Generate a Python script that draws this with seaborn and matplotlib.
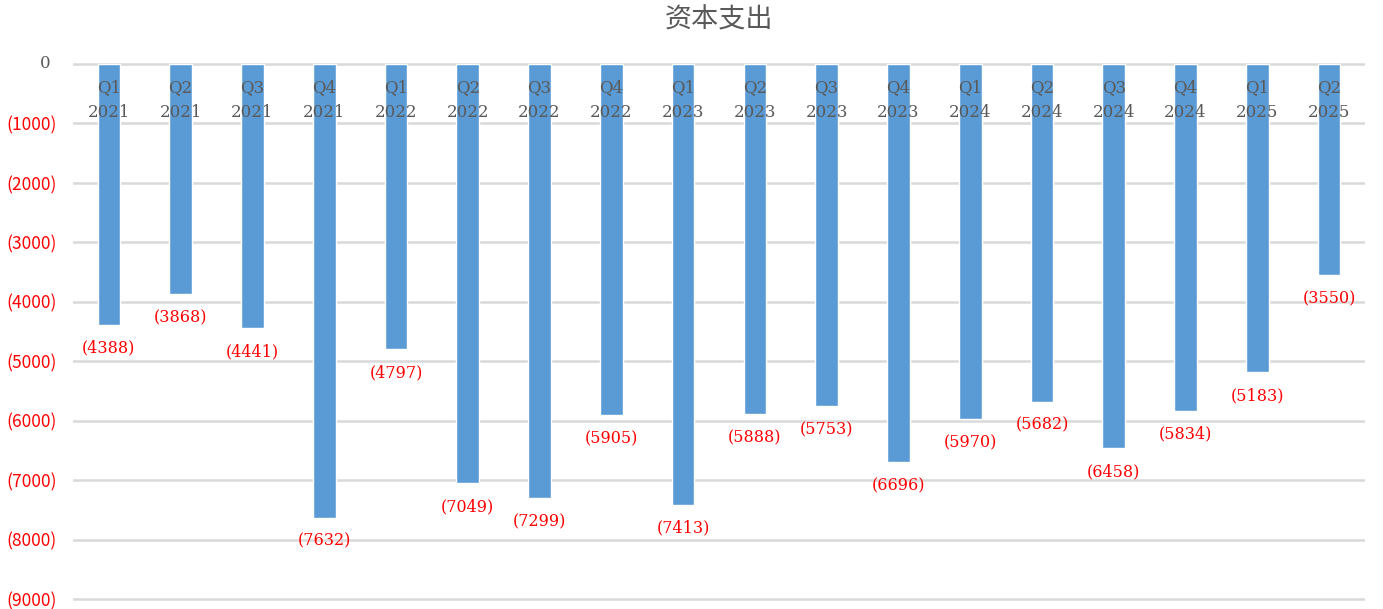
import matplotlib
matplotlib.use("Agg")
import matplotlib.pyplot as plt
import matplotlib.transforms as mtransforms
import seaborn as sns
import pandas as pd

# Quarterly capital expenditure (negative = cash outflow)
quarters = ["Q1", "Q2", "Q3", "Q4", "Q1", "Q2", "Q3", "Q4", "Q1",
            "Q2", "Q3", "Q4", "Q1", "Q2", "Q3", "Q4", "Q1", "Q2"]
years = ["2021", "2021", "2021", "2021", "2022", "2022", "2022", "2022", "2023",
         "2023", "2023", "2023", "2024", "2024", "2024", "2024", "2025", "2025"]
capex = [-4388, -3868, -4441, -7632, -4797, -7049, -7299, -5905, -7413,
         -5888, -5753, -6696, -5970, -5682, -6458, -5834, -5183, -3550]
y_ticks = [0, -1000, -2000, -3000, -4000, -5000, -6000, -7000, -8000, -9000]

periods = [f"{q}\n{y}" for q, y in zip(quarters, years)]
df = pd.DataFrame({"period": periods, "capex": capex})

sns.set_theme(style="white")
plt.rcParams["font.family"] = ["Noto Sans CJK SC", "DejaVu Sans"]

W, H = 1383, 609
fig = plt.figure(figsize=(W / 100, H / 100), dpi=100)
px_per_unit = (599 - 64) / 9000
margin = 40
top_px = 64 - margin * px_per_unit
bot_px = 599 + margin * px_per_unit
ax = fig.add_axes([73 / W, (H - bot_px) / H, (1365 - 73) / W, (bot_px - top_px) / H])

sns.barplot(data=df, x="period", y="capex", color="#5B9BD5", width=0.316,
            saturation=1, ax=ax, zorder=3)

ax.set_ylim(-9000 - margin, margin)
ax.set_xlim(-0.5, len(periods) - 0.5)
ax.set_yticks(y_ticks)
ax.set_yticklabels(["" if v == 0 else f"({abs(v)})" for v in y_ticks],
                   color="#FF0000", fontsize=12.5)
ax.yaxis.grid(True, color="#D9D9D9", linewidth=1.8, zorder=0)
ax.xaxis.grid(False)
ax.tick_params(axis="y", length=0, pad=11.5)

for s in ["left", "right", "top", "bottom"]:
    ax.spines[s].set_visible(False)
ax.set_xticks(range(len(periods)))
ax.set_xticklabels([])
ax.tick_params(axis="x", length=0)
ax.set_xlabel("")
ax.set_ylabel("")

# zero label, in grey serif, sits a little further left than the negative ones
zero_tf = mtransforms.blended_transform_factory(fig.transFigure, ax.transData)
ax.text(51 / W, y_ticks[0], "0", transform=zero_tf, ha="right", va="center",
        fontsize=12, color="#595959", family=["DejaVu Serif"])


def px_offset(dy_px):
    return ax.transData + mtransforms.ScaledTranslation(0, -dy_px / 100, fig.dpi_scale_trans)


# category labels hang just below the zero line, drawn over the bars
for i, (q, y) in enumerate(zip(quarters, years)):
    ax.text(i, 0, q, transform=px_offset(28), ha="center", va="baseline",
            fontsize=12, color="#595959", family=["DejaVu Serif"], zorder=6)
    ax.text(i, 0, y, transform=px_offset(53), ha="center", va="baseline",
            fontsize=12, color="#595959", family=["DejaVu Serif"], zorder=6)

for i, v in enumerate(capex):
    ax.text(i, v, f"({abs(v)})", transform=px_offset(28), ha="center", va="baseline",
            color="#FF0000", fontsize=11.5, family=["DejaVu Serif"], zorder=6)

fig.text(0.5 * (73 + 1365) / W, (H - 19.5) / H, "资本支出", ha="center", va="center",
         fontsize=19.5, color="#595959")

fig.savefig("out.png", dpi=100)
